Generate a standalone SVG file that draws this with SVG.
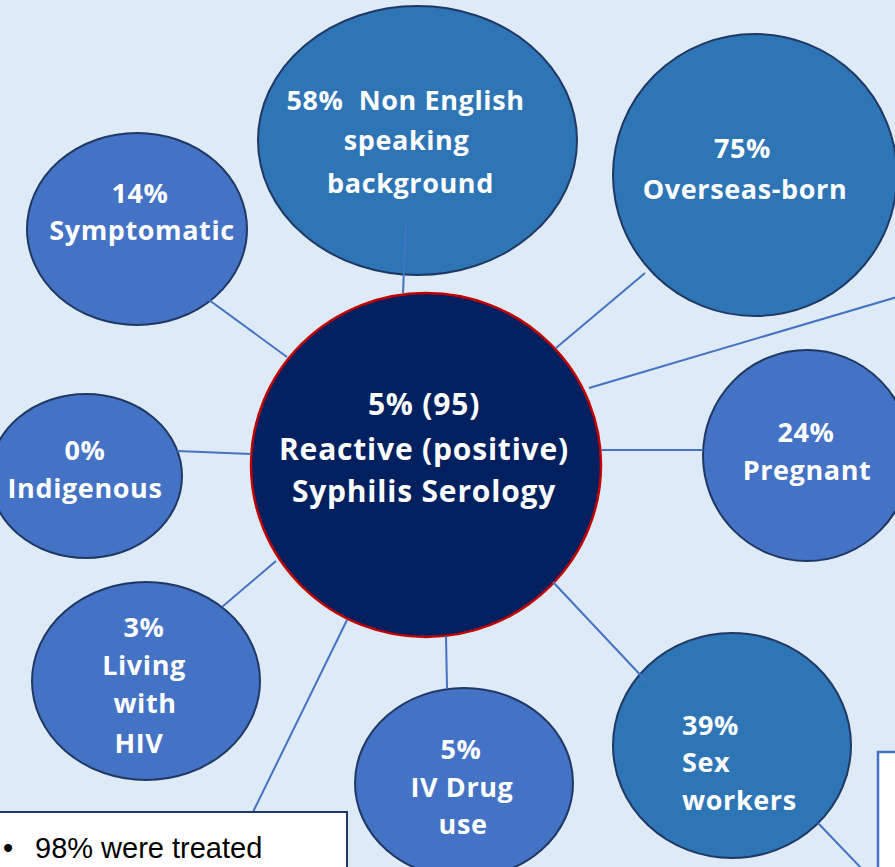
<svg xmlns="http://www.w3.org/2000/svg" width="895" height="867" viewBox="0 0 895 867">
<style>
.bg{fill:#DEEBF7}
.n1{fill:#4472C4;stroke:#1F3864;stroke-width:2}
.n2{fill:#2E75B6;stroke:#1F3864;stroke-width:2}
.core{fill:#002060;stroke:#C00000;stroke-width:2.5}
.t{font-family:"Open Sans",Lato,"Liberation Sans",sans-serif;font-weight:700;fill:#FFFFFF;font-size:27px;letter-spacing:0.6px;text-anchor:middle}
.tc{font-size:30px;letter-spacing:0.8px}
.tl{text-anchor:start}
.c{stroke:#4472C4;stroke-width:2;fill:none}
.box{fill:#FFFFFF;stroke:#1F3864;stroke-width:2}
.box2{fill:#FFFFFF;stroke:#4472C4;stroke-width:2.5}
.bt{font-family:"Liberation Sans",Arial,sans-serif;font-size:29px;fill:#000000}
</style>
<rect class="bg" x="0" y="0" width="895" height="867"/>

<g id="node-symptomatic">
<ellipse class="n1" cx="137" cy="229" rx="110" ry="96"/>
<text class="t" x="140" y="203">14%</text>
<text class="t" x="142" y="240">Symptomatic</text>
</g>

<g id="node-nesb">
<ellipse class="n2" cx="417.5" cy="140.5" rx="159.5" ry="134.5"/>
<text class="t" x="405.5" y="110" xml:space="preserve">58%  Non English</text>
<text class="t" x="406.5" y="150">speaking</text>
<text class="t" x="410.5" y="193">background</text>
</g>

<g id="node-overseas">
<ellipse class="n2" cx="755" cy="175" rx="142" ry="141"/>
<text class="t" x="742.5" y="158">75%</text>
<text class="t" x="745" y="199">Overseas-born</text>
</g>

<g id="node-indigenous">
<ellipse class="n1" cx="86" cy="476" rx="96" ry="82"/>
<text class="t" x="85" y="460">0%</text>
<text class="t" x="85" y="498">Indigenous</text>
</g>

<g id="node-pregnant">
<ellipse class="n1" cx="807" cy="455.5" rx="104" ry="105.5"/>
<text class="t" x="806" y="442">24%</text>
<text class="t" x="807" y="480">Pregnant</text>
</g>

<g id="node-hiv">
<ellipse class="n1" cx="146" cy="681" rx="114" ry="99"/>
<text class="t" x="144" y="637">3%</text>
<text class="t" x="144" y="675">Living</text>
<text class="t" x="145" y="713">with</text>
<text class="t" x="139" y="753">HIV</text>
</g>

<g id="node-ivdu">
<ellipse class="n1" cx="464" cy="783" rx="109" ry="95"/>
<text class="t" x="461" y="759">5%</text>
<text class="t" x="462" y="797">IV Drug</text>
<text class="t" x="463" y="834">use</text>
</g>

<g id="node-sexworkers">
<ellipse class="n2" cx="732" cy="745.5" rx="119" ry="112.5"/>
<text class="t tl" x="682" y="735">39%</text>
<text class="t tl" x="682" y="772">Sex</text>
<text class="t tl" x="682" y="810">workers</text>
</g>

<g id="node-center">
<ellipse class="core" cx="426" cy="465" rx="175" ry="172"/>
<text class="t tc" x="424" y="415">5% (95)</text>
<text class="t tc" x="424" y="460">Reactive (positive)</text>
<text class="t tc" x="424" y="502">Syphilis Serology</text>
</g>

<g id="connectors">
<line class="c" x1="209" y1="300" x2="287" y2="357"/>
<line class="c" x1="406" y1="222" x2="403" y2="293"/>
<line class="c" x1="645" y1="273" x2="556" y2="348"/>
<line class="c" x1="589" y1="388" x2="897" y2="297"/>
<line class="c" x1="602" y1="450" x2="703" y2="450"/>
<line class="c" x1="177" y1="451" x2="251" y2="454"/>
<line class="c" x1="222" y1="607" x2="276" y2="561"/>
<line class="c" x1="347" y1="620" x2="253" y2="812"/>
<line class="c" x1="446" y1="636" x2="447" y2="688"/>
<line class="c" x1="553" y1="582" x2="647" y2="682"/>
<line class="c" x1="818" y1="823" x2="862" y2="869"/>
</g>

<g id="note-treated">
<rect class="box" x="-5" y="812" width="352" height="70"/>
<text class="bt" x="3" y="858">•</text>
<text class="bt" x="35" y="858">98% were treated</text>
</g>

<g id="note-right">
<rect class="box2" x="878" y="752" width="30" height="130"/>
</g>
</svg>
